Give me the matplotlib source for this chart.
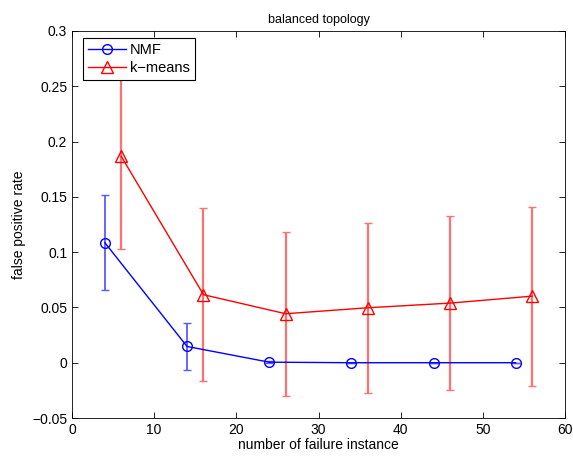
import matplotlib
matplotlib.use("Agg")
import matplotlib.pyplot as plt
from matplotlib.ticker import FuncFormatter

# data
x_nmf = [4, 14, 24, 34, 44, 54]
y_nmf = [0.1085, 0.0147, 0.0005, 0.0, 0.0, 0.0]
e_nmf = [0.043, 0.021, 0.001, 0.0, 0.0, 0.0]

x_km = [6, 16, 26, 36, 46, 56]
y_km = [0.1865, 0.0615, 0.0443, 0.0497, 0.0539, 0.0602]
e_km = [0.084, 0.078, 0.074, 0.077, 0.079, 0.081]

xticks = [0, 10, 20, 30, 40, 50, 60]
yticks = [-0.05, 0, 0.05, 0.1, 0.15, 0.2, 0.25, 0.3]

plt.rcParams['font.family'] = ['Liberation Sans', 'DejaVu Sans']
plt.rcParams['font.size'] = 10

fig = plt.figure(figsize=(5.73, 4.62), dpi=100)
ax = fig.add_axes([0.1257, 0.0952, 0.8603, 0.8378])

# error bars (no markers / lines)
ax.errorbar(x_nmf, y_nmf, yerr=e_nmf, fmt='none', ecolor='#5a5aff',
            elinewidth=1.3, capsize=3, capthick=1.0, zorder=2)
ax.errorbar(x_km, y_km, yerr=e_km, fmt='none', ecolor='#ff7070',
            elinewidth=1.6, capsize=3, capthick=1.0, zorder=2)

ax.plot(x_nmf, y_nmf, color='blue', lw=1.0, marker='o', ms=7,
        mfc='none', mec='blue', mew=1.0, label='NMF', zorder=3)
ax.plot(x_km, y_km, color='red', lw=1.0, marker='^', ms=8,
        mfc='none', mec='red', mew=1.0, label='k\u2212means', zorder=3)

ax.set_xlim(0, 60)
ax.set_ylim(-0.05, 0.3)
ax.set_xticks(xticks)
ax.set_yticks(yticks)
ax.yaxis.set_major_formatter(FuncFormatter(lambda v, p: ('%g' % round(v, 4)).replace('-', '\u2212')))
ax.tick_params(direction='in', length=4, width=0.6, top=True, right=True, labelsize=10)
for s in ax.spines.values():
    s.set_linewidth(0.6)

ax.set_title('balanced topology', fontsize=9, pad=6)
ax.set_xlabel('number of failure instance', fontsize=10, labelpad=1)
ax.set_ylabel('false positive rate', fontsize=10, labelpad=4)

leg = ax.legend(loc='upper left', bbox_to_anchor=(0.022, 0.982), fancybox=False,
                edgecolor='black', framealpha=1, borderaxespad=0,
                handlelength=2.6, handletextpad=0.25, borderpad=0.35,
                labelspacing=0.28, fontsize=10.5)
leg.get_frame().set_linewidth(0.8)
leg.set_zorder(5)

fig.savefig('out.png', dpi=100)
